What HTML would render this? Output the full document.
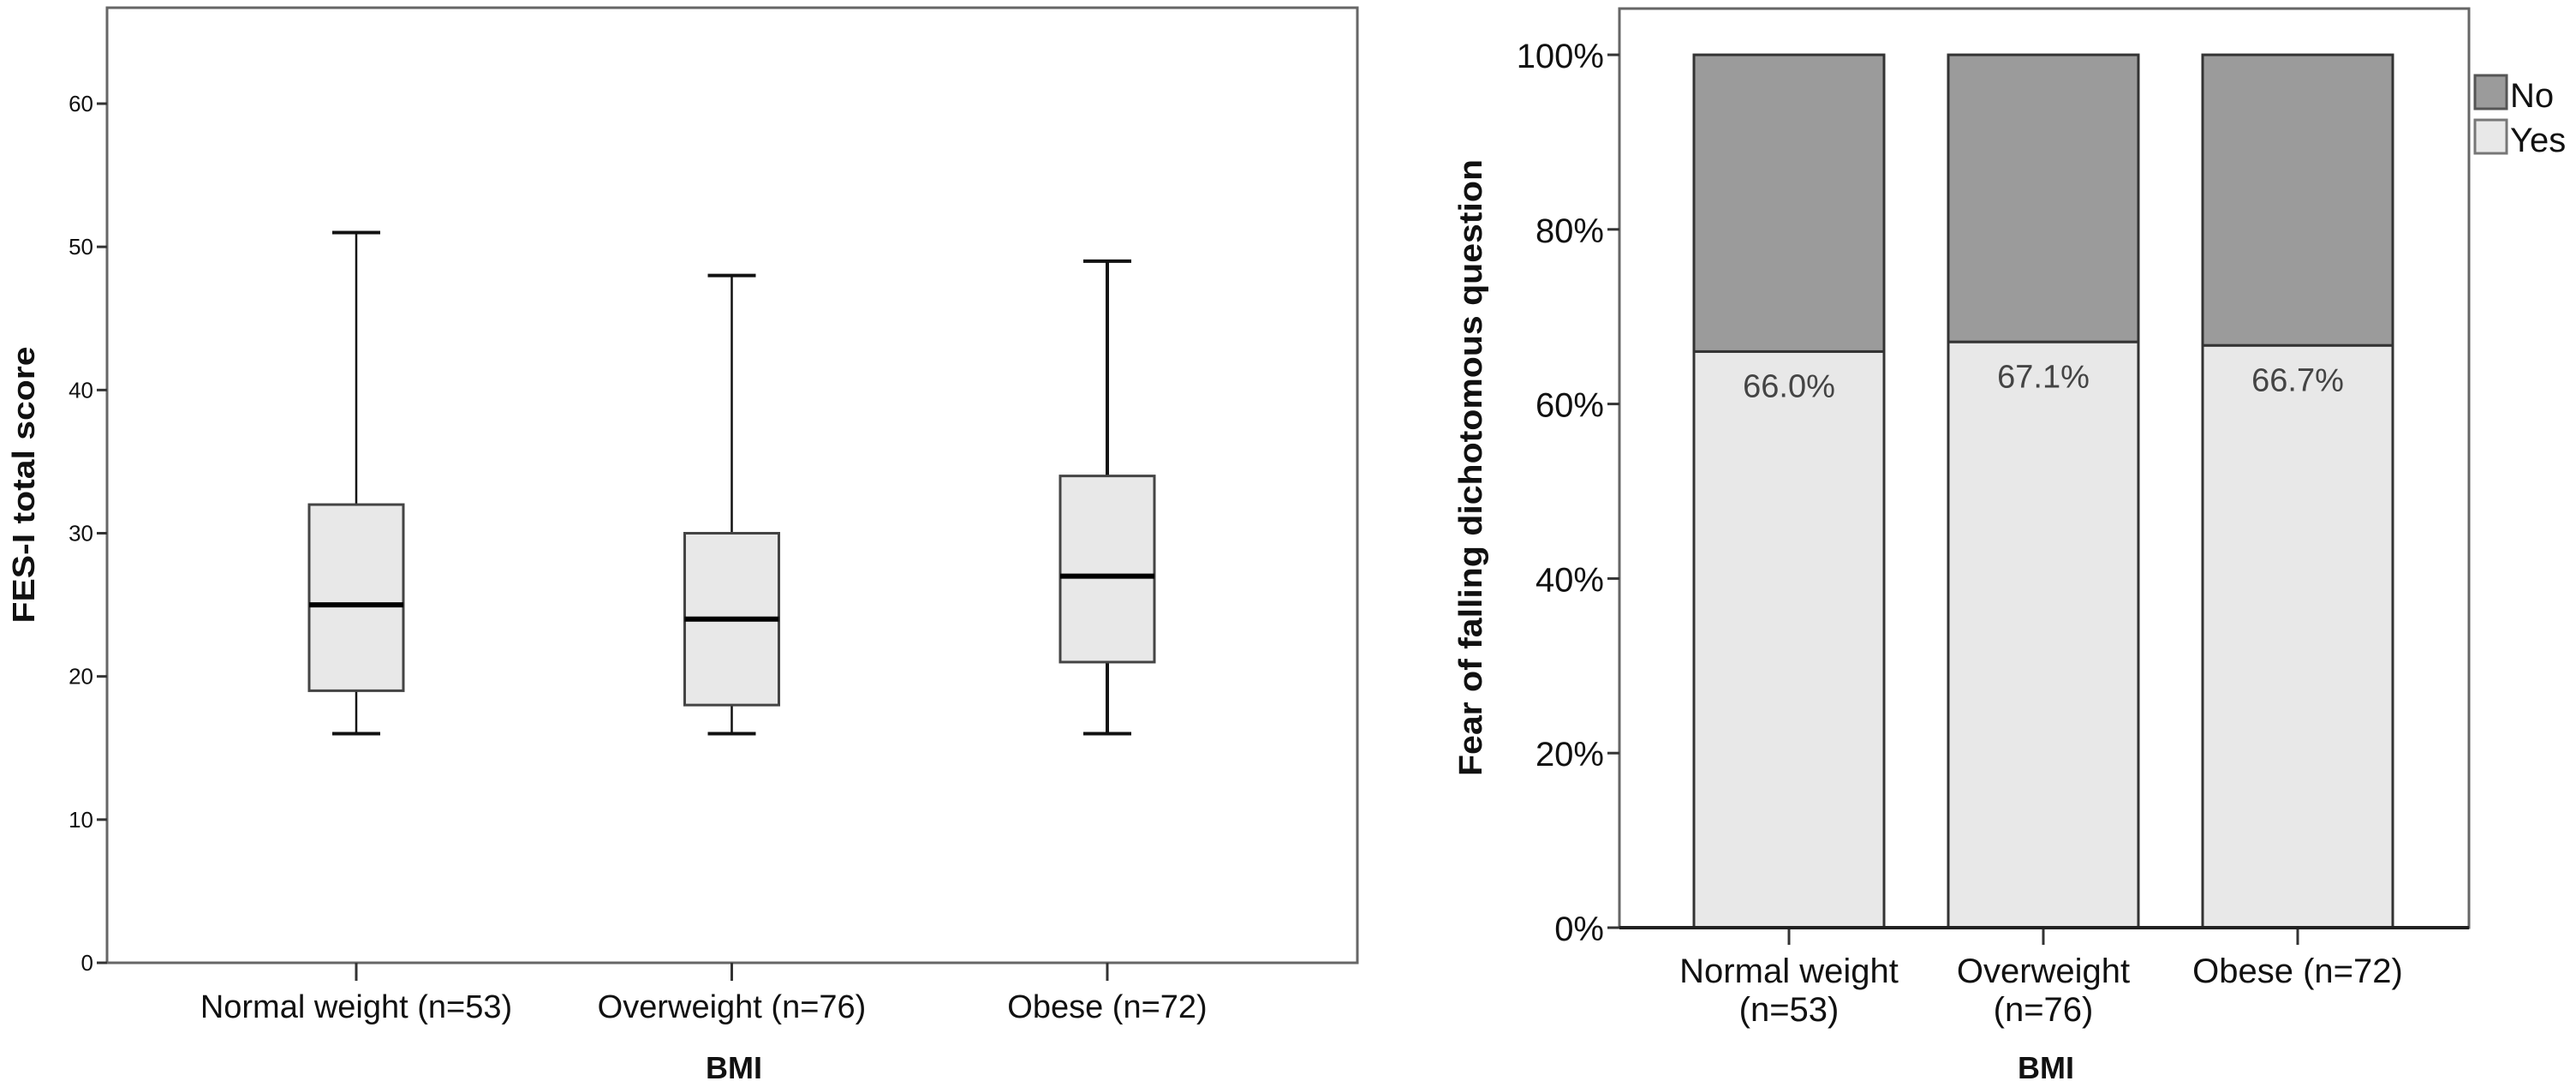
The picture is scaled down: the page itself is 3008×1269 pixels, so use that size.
<!DOCTYPE html>
<html><head><meta charset="utf-8"><style>
html,body{margin:0;padding:0;background:#fff;}
svg{display:block;font-family:"Liberation Sans",Arial,sans-serif;}
</style></head><body>
<svg id="c" width="3008" height="1269" viewBox="0 0 3008 1269" xmlns="http://www.w3.org/2000/svg"></svg>
<script>
const boxCategories = ["Normal weight (n=53)", "Overweight (n=76)", "Obese (n=72)"];
const boxMin = [16, 16, 16];
const boxQ1 = [19, 18, 21];
const boxMedian = [25, 24, 27];
const boxQ3 = [32, 30, 34];
const boxMax = [51, 48, 49];
const leftTicks = [0, 10, 20, 30, 40, 50, 60];

const barCatLine1 = ["Normal weight", "Overweight", "Obese (n=72)"];
const barCatLine2 = ["(n=53)", "(n=76)", ""];
const yesPct = [66.0, 67.1, 66.7];
const rightTicks = [0, 20, 40, 60, 80, 100];

const NS = "http://www.w3.org/2000/svg";
const svg = document.getElementById("c");
function mk(tag, attrs, parent) {
  const e = document.createElementNS(NS, tag);
  for (const k in attrs) e.setAttribute(k, attrs[k]);
  (parent || svg).appendChild(e);
  return e;
}
function txt(s, attrs, parent) { const e = mk("text", attrs, parent); e.textContent = s; return e; }

/* ---------- LEFT BOX PLOT ---------- */
const L = {x0: 125, x1: 1585, yTop: 9, yBot: 1124, max: 66.7};
const ly = v => L.yBot - v / L.max * (L.yBot - L.yTop);
const lx = i => 416 + i * 438.5;
const gL = mk("g", {});  
const frameL = mk("rect", {x: L.x0, y: L.yTop, width: L.x1 - L.x0, height: L.yBot - L.yTop, fill: "#fff", stroke: "#666", "stroke-width": 3}, gL);
 
leftTicks.forEach(t => {
  const y = ly(t);
  const tk = mk("line", {x1: L.x0 - 12, x2: L.x0, y1: y, y2: y, stroke: "#333", "stroke-width": 3}, gL);
   
  const lb = txt(String(t), {x: L.x0 - 16, y: y + 9, "font-size": 26, "text-anchor": "end", fill: "#111"}, gL);
   
});
boxCategories.forEach((c, i) => {
  const cx = lx(i), bw = 110, cw = 56;
  const sw = i === 2 ? 4 : 2.5;
  const g = mk("g", {}, gL);  
  const w1 = mk("line", {x1: cx, x2: cx, y1: ly(boxMax[i]), y2: ly(boxQ3[i]), stroke: "#111", "stroke-width": sw}, g);
   
  const w2 = mk("line", {x1: cx, x2: cx, y1: ly(boxQ1[i]), y2: ly(boxMin[i]), stroke: "#111", "stroke-width": sw}, g);
   
  const c1 = mk("line", {x1: cx - cw / 2, x2: cx + cw / 2, y1: ly(boxMax[i]), y2: ly(boxMax[i]), stroke: "#111", "stroke-width": 4}, g);
   
  const c2 = mk("line", {x1: cx - cw / 2, x2: cx + cw / 2, y1: ly(boxMin[i]), y2: ly(boxMin[i]), stroke: "#111", "stroke-width": 4}, g);
   
  const r = mk("rect", {x: cx - bw / 2, y: ly(boxQ3[i]), width: bw, height: ly(boxQ1[i]) - ly(boxQ3[i]), fill: "#e8e8e8", stroke: "#444", "stroke-width": 3}, g);
   
  const m = mk("line", {x1: cx - bw / 2, x2: cx + bw / 2, y1: ly(boxMedian[i]), y2: ly(boxMedian[i]), stroke: "#000", "stroke-width": 6}, g);
   
  const tk = mk("line", {x1: cx, x2: cx, y1: L.yBot, y2: L.yBot + 21, stroke: "#333", "stroke-width": 3}, gL);
   
  const lb = txt(c, {x: cx, y: L.yBot + 64, "font-size": 38, "text-anchor": "middle", fill: "#111"}, gL);
   
});
const lt = txt("FES-I total score", {x: 0, y: 0, "font-size": 36, "font-weight": "bold", "text-anchor": "middle", textLength: 323, lengthAdjust: "spacingAndGlyphs", transform: "translate(40,566) rotate(-90)", fill: "#111"}, gL);
 
const lxT = txt("BMI", {x: 857, y: 1259, "font-size": 36, "font-weight": "bold", "text-anchor": "middle", fill: "#111"}, gL);
 

/* ---------- RIGHT STACKED BAR ---------- */
const R = {x0: 1891, x1: 2883, yTop: 10, y0: 1083, y100: 64};
const ry = v => R.y0 - v / 100 * (R.y0 - R.y100);
const rx = i => 2089 + i * 297;
const gR = mk("g", {});  
const frameR = mk("rect", {x: R.x0, y: R.yTop, width: R.x1 - R.x0, height: R.y0 - R.yTop, fill: "#fff", stroke: "#666", "stroke-width": 3}, gR);
 
rightTicks.forEach(t => {
  const y = ry(t);
  const tk = mk("line", {x1: R.x0 - 14, x2: R.x0, y1: y, y2: y, stroke: "#333", "stroke-width": 3}, gR);
   
  const lb = txt(t + "%", {x: R.x0 - 18, y: y + 15, "font-size": 40, "text-anchor": "end", fill: "#111"}, gR);
   
});
yesPct.forEach((v, i) => {
  const cx = rx(i), bw = 222;
  const g = mk("g", {}, gR);  
  const no = mk("rect", {x: cx - bw / 2, y: ry(100), width: bw, height: ry(v) - ry(100), fill: "#9b9b9b", stroke: "#333", "stroke-width": 3}, g);
   
  const yes = mk("rect", {x: cx - bw / 2, y: ry(v), width: bw, height: ry(0) - ry(v), fill: "#e8e8e8", stroke: "#333", "stroke-width": 3}, g);
   
  const vl = txt(v.toFixed(1) + "%", {x: cx, y: ry(v) + 53, "font-size": 38, "text-anchor": "middle", fill: "#444"}, g);
   
  const tk = mk("line", {x1: cx, x2: cx, y1: R.y0, y2: R.y0 + 20, stroke: "#333", "stroke-width": 3}, gR);
   
  const l1 = txt(barCatLine1[i], {x: cx, y: R.y0 + 64, "font-size": 40, "text-anchor": "middle", fill: "#111"}, gR);
   
  if (barCatLine2[i]) {
    const l2 = txt(barCatLine2[i], {x: cx, y: R.y0 + 109, "font-size": 40, "text-anchor": "middle", fill: "#111"}, gR);
     
  }
});
const base = mk("line", {x1: R.x0, x2: R.x1, y1: R.y0, y2: R.y0, stroke: "#222", "stroke-width": 4}, gR);
 
const rt = txt("Fear of falling dichotomous question", {x: 0, y: 0, "font-size": 38, "font-weight": "bold", "text-anchor": "middle", textLength: 720, lengthAdjust: "spacingAndGlyphs", transform: "translate(1730,546) rotate(-90)", fill: "#111"}, gR);
 
const rxT = txt("BMI", {x: 2389, y: 1259, "font-size": 36, "font-weight": "bold", "text-anchor": "middle", fill: "#111"}, gR);
 

/* legend */
const gLeg = mk("g", {});  
const s1 = mk("rect", {x: 2890, y: 88, width: 37, height: 39, fill: "#9b9b9b", stroke: "#555", "stroke-width": 3}, gLeg);
 
const t1 = txt("No", {x: 2931, y: 125, "font-size": 40, fill: "#111"}, gLeg);
 
const s2 = mk("rect", {x: 2890, y: 140, width: 37, height: 39, fill: "#e8e8e8", stroke: "#777", "stroke-width": 3}, gLeg);
 
const t2 = txt("Yes", {x: 2931, y: 177, "font-size": 40, fill: "#111"}, gLeg);
 
</script>
</body></html>
